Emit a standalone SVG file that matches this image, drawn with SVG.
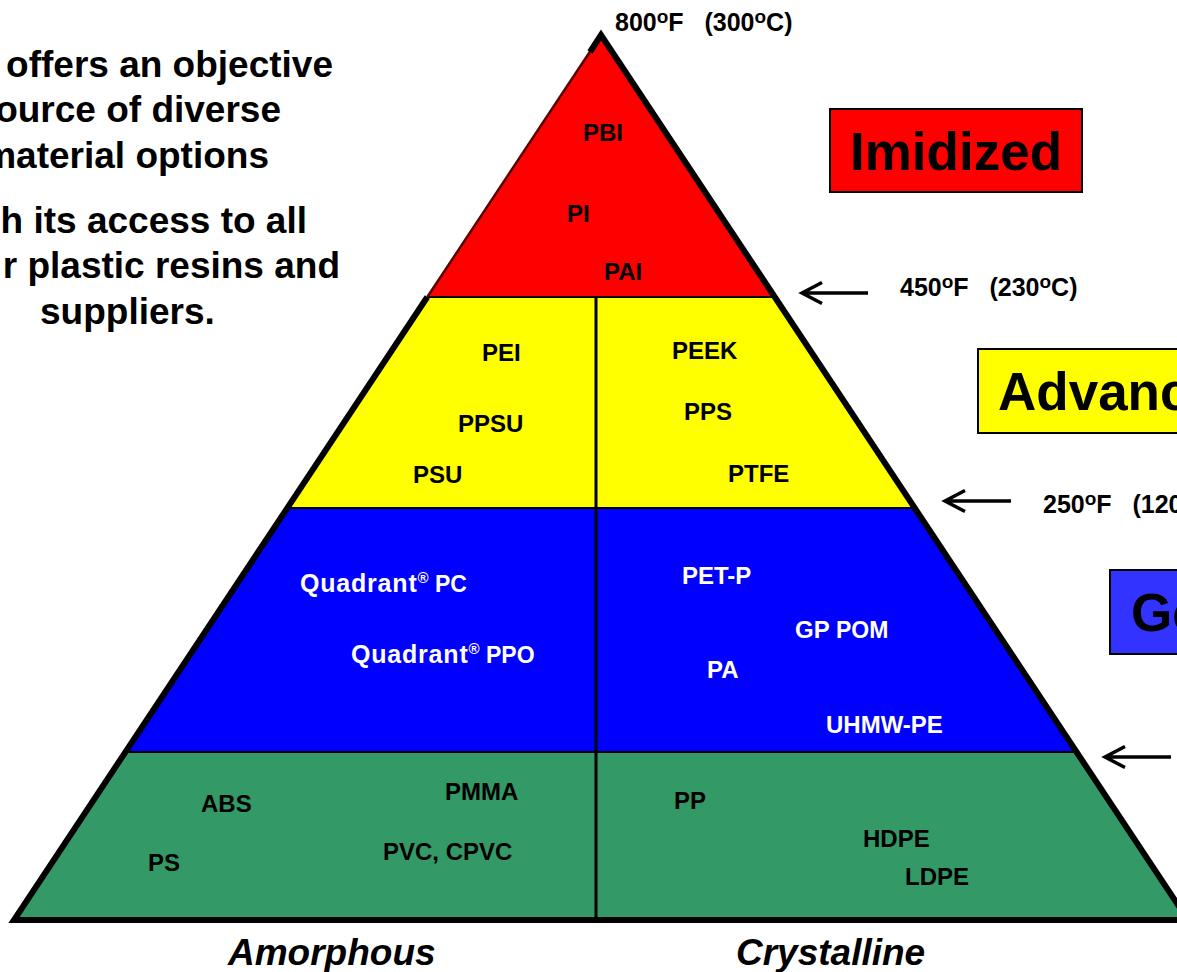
<svg xmlns="http://www.w3.org/2000/svg" width="1177" height="972" viewBox="0 0 1177 972">
<style>
text{font-family:"Liberation Sans",Arial,sans-serif;font-weight:bold}
.lbl{font-size:24px;fill:#000}
.wl{font-size:24px;fill:#fff}
.big{font-size:37px;fill:#000}
.temp{font-size:25px;fill:#000;white-space:pre}
.sup{font-size:19px}
.cat{font-size:53px;fill:#000}
.sep{stroke:#000;stroke-width:2;fill:none}
.box{stroke:#000;stroke-width:2}
.arr{stroke:#000;stroke-width:3.5;fill:none}
</style>
<defs>
<path id="arrow" d="M66,0 L0,0 M20,-10.5 L0,0 L20,10.5"/>
</defs>
<rect width="1177" height="972" fill="#fff"/>
<g id="intro">
<text class="big" x="333" y="77" text-anchor="end">offers an objective</text>
<text class="big" x="281" y="122" text-anchor="end">ource of diverse</text>
<text class="big" x="269" y="168" text-anchor="end">material options</text>
<text class="big" x="307" y="233" text-anchor="end">h its access to all</text>
<text class="big" x="340" y="278" text-anchor="end">r plastic resins and</text>
<text class="big" x="40" y="324">suppliers.</text>
</g>
<g id="band-imidized">
<polygon points="601,35 774.7,297 427.3,297" fill="#FF0000"/>
<text class="lbl" x="583" y="141">PBI</text>
<text class="lbl" x="567" y="222">PI</text>
<text class="lbl" x="604" y="280">PAI</text>
</g>
<g id="band-advanced">
<polygon points="427.3,297 774.7,297 914.6,508 287.4,508" fill="#FFFF00"/>
<text class="lbl" x="482" y="361">PEI</text>
<text class="lbl" x="458" y="432">PPSU</text>
<text class="lbl" x="413" y="483">PSU</text>
<text class="lbl" x="672" y="359">PEEK</text>
<text class="lbl" x="684" y="420">PPS</text>
<text class="lbl" x="728" y="482">PTFE</text>
</g>
<g id="band-general">
<polygon points="287.4,508 914.6,508 1076.4,752 125.6,752" fill="#0000FF"/>
<text class="wl" x="300" y="592"><tspan font-size="25" letter-spacing="0.8">Quadrant</tspan><tspan font-size="15" dy="-9">®</tspan><tspan dy="9" font-size="23"> PC</tspan></text>
<text class="wl" x="351" y="663"><tspan font-size="25" letter-spacing="0.8">Quadrant</tspan><tspan font-size="15" dy="-9">®</tspan><tspan dy="9" font-size="23"> PPO</tspan></text>
<text class="wl" x="682" y="584">PET-P</text>
<text class="wl" x="795" y="638">GP <tspan font-size="23">POM</tspan></text>
<text class="wl" x="707" y="678">PA</text>
<text class="wl" x="826" y="733">UHMW-PE</text>
</g>
<g id="band-commodity">
<polygon points="125.6,752 1076.4,752 1188,920 14,920" fill="#339966"/>
<text class="lbl" x="201" y="812">ABS</text>
<text class="lbl" x="445" y="800">PMMA</text>
<text class="lbl" x="148" y="871">PS</text>
<text class="lbl" x="383" y="860">PVC, CPVC</text>
<text class="lbl" x="674" y="809">PP</text>
<text class="lbl" x="863" y="847">HDPE</text>
<text class="lbl" x="905" y="885">LDPE</text>
</g>
<g id="pyramid-outline">
<line class="sep" x1="427.3" y1="297" x2="774.7" y2="297"/>
<line class="sep" x1="287.4" y1="508" x2="914.6" y2="508"/>
<line class="sep" x1="125.6" y1="752" x2="1076.4" y2="752"/>
<line x1="596" y1="297" x2="596" y2="920" stroke="#000" stroke-width="3"/>
<path d="M427.3,297 L601,35" stroke="#5a0000" stroke-width="2.5" fill="none"/>
<path d="M590,52 L601,35 L1188,920 L14,920 L427.3,297" stroke="#000" stroke-width="6" fill="none" stroke-linejoin="miter" stroke-miterlimit="10"/>
</g>
<g id="axis-labels">
<text x="228" y="965" font-size="37" font-style="italic">Amorphous</text>
<text x="736" y="965" font-size="37" font-style="italic">Crystalline</text>
</g>
<g id="temp-800">
<text class="temp" x="615" y="31" xml:space="preserve">800<tspan class="sup" dy="-8">o</tspan><tspan dy="8">F   (300</tspan><tspan class="sup" dy="-8">o</tspan><tspan dy="8">C)</tspan></text>
</g>
<g id="temp-450">
<text class="temp" x="900" y="296" xml:space="preserve">450<tspan class="sup" dy="-8">o</tspan><tspan dy="8">F   (230</tspan><tspan class="sup" dy="-8">o</tspan><tspan dy="8">C)</tspan></text>
</g>
<g id="temp-250">
<text class="temp" x="1043" y="513" xml:space="preserve">250<tspan class="sup" dy="-8">o</tspan><tspan dy="8">F   (120</tspan><tspan class="sup" dy="-8">o</tspan><tspan dy="8">C)</tspan></text>
</g>
<g id="label-imidized">
<rect class="box" x="830" y="109" width="252" height="83" fill="#FF0000"/>
<text class="cat" x="850" y="170">Imidized</text>
</g>
<g id="label-advanced">
<rect class="box" x="978" y="349" width="260" height="84" fill="#FFFF00"/>
<text class="cat" x="998" y="410">Advanced</text>
</g>
<g id="label-general">
<rect class="box" x="1110" y="570" width="260" height="84" fill="#3333FF"/>
<text class="cat" x="1131" y="631">General</text>
</g>
<g id="connectors">
<use href="#arrow" class="arr" x="802" y="293"/>
<use href="#arrow" class="arr" x="945" y="501"/>
<use href="#arrow" class="arr" x="1105" y="757"/>
</g>
</svg>
